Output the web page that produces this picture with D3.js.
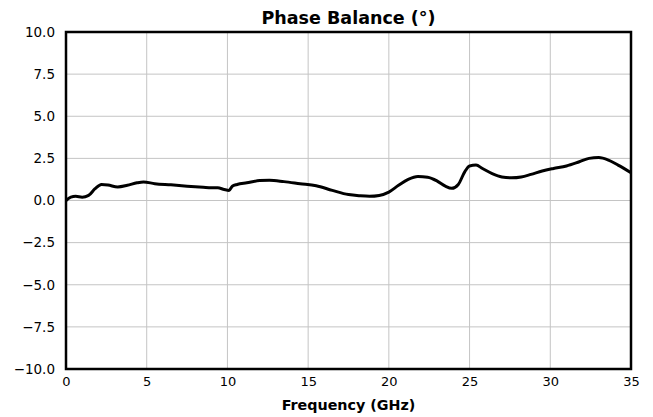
<!DOCTYPE html>
<html>
<head>
<meta charset="utf-8">
<script src="https://cdn.jsdelivr.net/npm/d3@7"></script>
<style>
  body { margin: 0; background: #fff; }
  text { font-family: "DejaVu Sans", sans-serif; }
</style>
</head>
<body>
<div class="chart"></div>
<script>
// data
var freqGHz = [0, 0.3, 0.6, 1.0, 1.4, 1.8, 2.2, 2.6, 3.2, 3.8, 4.4, 4.8, 5.5, 6.5, 7.5, 8.5, 9.0, 9.4, 9.8, 10.1,
  10.3, 10.6, 11.2, 12.0, 12.6, 13.5, 14.5, 15.5, 16.5, 17.5, 18.2, 18.8, 19.4, 20.0, 20.6, 21.2, 21.8, 22.4, 23.0, 23.5,
  23.9, 24.3, 24.7, 25.0, 25.4, 25.8, 26.4, 27.0, 27.6, 28.2, 28.8, 29.5, 30.2, 31.0, 31.8, 32.4, 33.0, 33.6, 34.2, 35.0];
var phaseBalance = [0.0, 0.2, 0.25, 0.2, 0.3, 0.7, 0.95, 0.92, 0.8, 0.9, 1.05, 1.1, 1.0, 0.93, 0.85, 0.78, 0.75, 0.75, 0.65, 0.6,
  0.85, 0.95, 1.05, 1.18, 1.2, 1.12, 1.0, 0.88, 0.6, 0.35, 0.28, 0.25, 0.3, 0.5, 0.9, 1.25, 1.42, 1.38, 1.15, 0.85,
  0.72, 0.95, 1.7, 2.05, 2.1, 1.9, 1.6, 1.4, 1.35, 1.4, 1.55, 1.75, 1.9, 2.05, 2.3, 2.5, 2.55, 2.4, 2.1, 1.65];
var xTicks = [0, 5, 10, 15, 20, 25, 30, 35];
var yTicks = [-10, -7.5, -5, -2.5, 0, 2.5, 5, 7.5, 10];

var svgWidth = 653;
var svgHeight = 417;
var margin = { top: 32, right: 22, bottom: 48, left: 66 };
var width = svgWidth - margin.left - margin.right;
var height = svgHeight - margin.top - margin.bottom;

var svg = d3.select(".chart").append("svg")
  .attr("width", svgWidth)
  .attr("height", svgHeight);

var chartGroup = svg.append("g")
  .attr("transform", `translate(${margin.left}, ${margin.top})`);

var xScale = d3.scaleLinear().domain([0, 35]).range([0, width]);
var yScale = d3.scaleLinear().domain([-10, 10]).range([height, 0]);

// grid
chartGroup.selectAll(".vgrid").data(xTicks).enter().append("line")
  .attr("x1", d => xScale(d)).attr("x2", d => xScale(d))
  .attr("y1", 0).attr("y2", height)
  .attr("stroke", "#c4c4c4").attr("stroke-width", 1);
chartGroup.selectAll(".hgrid").data(yTicks).enter().append("line")
  .attr("y1", d => yScale(d)).attr("y2", d => yScale(d))
  .attr("x1", 0).attr("x2", width)
  .attr("stroke", "#c4c4c4").attr("stroke-width", 1);

// axes (labels only)
var bottomAxis = d3.axisBottom(xScale).tickValues(xTicks).tickSize(0).tickPadding(8).tickFormat(d3.format("d"));
var leftAxis = d3.axisLeft(yScale).tickValues(yTicks).tickSize(0).tickPadding(11).tickFormat(d3.format(".1f"));

var xAxis = chartGroup.append("g").attr("transform", `translate(0, ${height})`).call(bottomAxis);
var yAxis = chartGroup.append("g").call(leftAxis);
[xAxis, yAxis].forEach(function (a) {
  a.select(".domain").remove();
  a.selectAll("text").attr("font-size", "13.5px").attr("fill", "#000")
    .style("font-family", "'DejaVu Sans', sans-serif");
});
xAxis.selectAll("text").attr("font-size", "13px");

// line
var points = freqGHz.map((f, i) => [f, phaseBalance[i]]);
var line = d3.line()
  .x(d => xScale(d[0]))
  .y(d => yScale(d[1]))
  .curve(d3.curveMonotoneX);

chartGroup.append("path")
  .datum(points)
  .attr("d", line)
  .attr("fill", "none")
  .attr("stroke", "#000")
  .attr("stroke-width", 3)
  .attr("stroke-linejoin", "round");

// frame
chartGroup.append("rect")
  .attr("width", width).attr("height", height)
  .attr("fill", "none").attr("stroke", "#000").attr("stroke-width", 2.5);

// title and label
svg.append("text")
  .attr("x", margin.left + width / 2).attr("y", 23.5)
  .attr("text-anchor", "middle")
  .attr("font-size", "17.5px").attr("font-weight", "bold")
  .text("Phase Balance (°)");

svg.append("text")
  .attr("x", margin.left + width / 2).attr("y", 409.5)
  .attr("text-anchor", "middle")
  .attr("font-size", "14.3px").attr("font-weight", "bold")
  .text("Frequency (GHz)");
</script>
</body>
</html>
